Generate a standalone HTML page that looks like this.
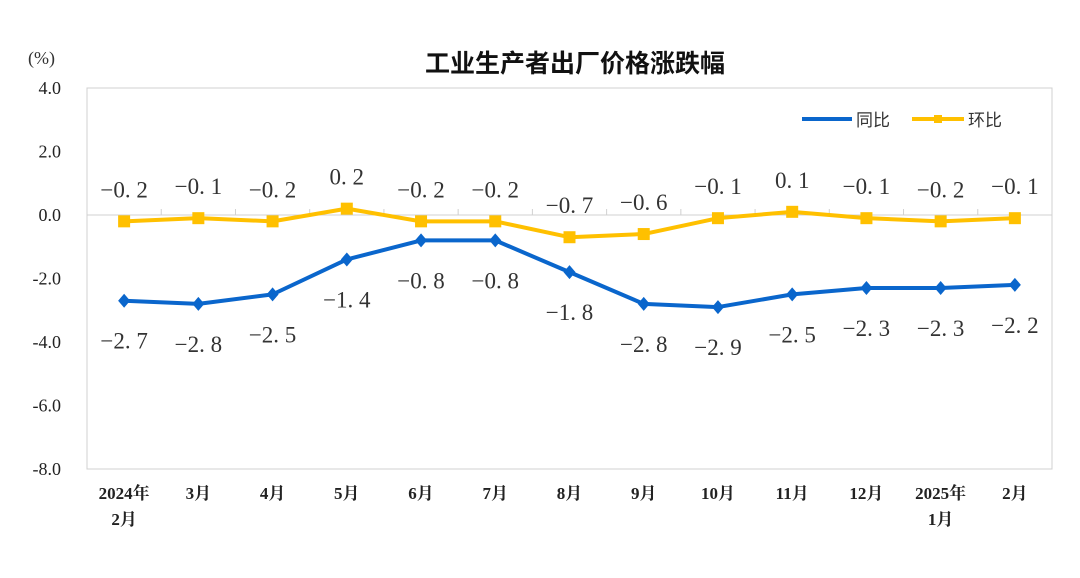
<!DOCTYPE html>
<html><head><meta charset="utf-8"><style>
body{margin:0;background:#fff;}
svg text{font-family:"Liberation Serif","Noto Serif CJK SC",serif;}
</style></head><body>
<svg id="c" width="1080" height="573" xmlns="http://www.w3.org/2000/svg">
<text x="575" y="72" text-anchor="middle" font-size="25" font-weight="bold" fill="#111" style="font-family:'Noto Sans CJK SC',sans-serif">工业生产者出厂价格涨跌幅</text>
<text x="28" y="64" font-size="18" fill="#333">(%)</text>
<rect x="87" y="88" width="965" height="381" fill="none" stroke="#d0d0d0"/>
<g id="ax"></g><g id="marks"></g>
<g>
<line x1="802" y1="119" x2="852" y2="119" stroke="#0a66cc" stroke-width="4"/>
<text x="856" y="126" font-size="17" fill="#333" style="font-family:'Noto Sans CJK SC',sans-serif">同比</text>
<line x1="912" y1="119" x2="964" y2="119" stroke="#ffc000" stroke-width="4"/>
<rect x="934" y="115" width="8" height="8" fill="#ffc000"/>
<text x="968" y="126" font-size="17" fill="#333" style="font-family:'Noto Sans CJK SC',sans-serif">环比</text>
</g>
</svg>
<script>
const categories=[["2024年","2月"],["3月"],["4月"],["5月"],["6月"],["7月"],["8月"],["9月"],["10月"],["11月"],["12月"],["2025年","1月"],["2月"]];
const yoy=[-2.7,-2.8,-2.5,-1.4,-0.8,-0.8,-1.8,-2.8,-2.9,-2.5,-2.3,-2.3,-2.2];
const mom=[-0.2,-0.1,-0.2,0.2,-0.2,-0.2,-0.7,-0.6,-0.1,0.1,-0.1,-0.2,-0.1];
const yTicks=[4,2,0,-2,-4,-6,-8];
const NS="http://www.w3.org/2000/svg";
const L=87,R=1052,T=88,B=469,ymax=4,ymin=-8;
const bw=(R-L)/categories.length;
const xs=i=>L+bw*(i+0.5);
const ys=v=>T+(ymax-v)/(ymax-ymin)*(B-T);
function mk(tag,attrs,parent){const e=document.createElementNS(NS,tag);for(const k in attrs)e.setAttribute(k,attrs[k]);parent.appendChild(e);return e;}
const ax=document.getElementById('ax'),mg=document.getElementById('marks');
yTicks.forEach(v=>{const t=mk('text',{x:61,y:ys(v)+6,'text-anchor':'end','font-size':18,fill:'#222'},ax);t.textContent=v.toFixed(1);

});
const zl=mk('line',{x1:L,x2:R,y1:ys(0),y2:ys(0),stroke:'#d0d0d0'},ax);


for(let i=1;i<categories.length;i++){const tk=mk('line',{x1:L+bw*i,x2:L+bw*i,y1:ys(0)-6,y2:ys(0),stroke:'#d0d0d0'},ax);

}
categories.forEach((c,i)=>{c.forEach((s,j)=>{const t=mk('text',{x:xs(i),y:499+j*26,'text-anchor':'middle','font-size':17,fill:'#222','font-weight':'bold'},ax);t.textContent=s;

});});
function fmt(v){return (v<0?'−':'')+Math.abs(v).toFixed(1).replace('.','. ');}
function series(vals,color,name,marker,labelDy){
const p=mk('polyline',{points:vals.map((v,i)=>xs(i)+','+ys(v)).join(' '),fill:'none',stroke:color,'stroke-width':4,'stroke-linejoin':'round'},mg);


vals.forEach((v,i)=>{const x=xs(i),y=ys(v);let m;
if(marker==='sq'){m=mk('rect',{x:x-6,y:y-6,width:12,height:12,fill:color},mg);}
else{m=mk('polygon',{points:`${x},${y-7} ${x+6},${y} ${x},${y+7} ${x-6},${y}`,fill:color},mg);}


const t=mk('text',{x:x,y:labelDy(v,i,y),'text-anchor':'middle','font-size':23,fill:'#333'},mg);t.textContent=fmt(v);

});}
series(mom,'#ffc000','mom','sq',(v,i,y)=>y-24);
series(yoy,'#0a66cc','yoy','dia',(v,i,y)=>y+48);
</script>
</body></html>
